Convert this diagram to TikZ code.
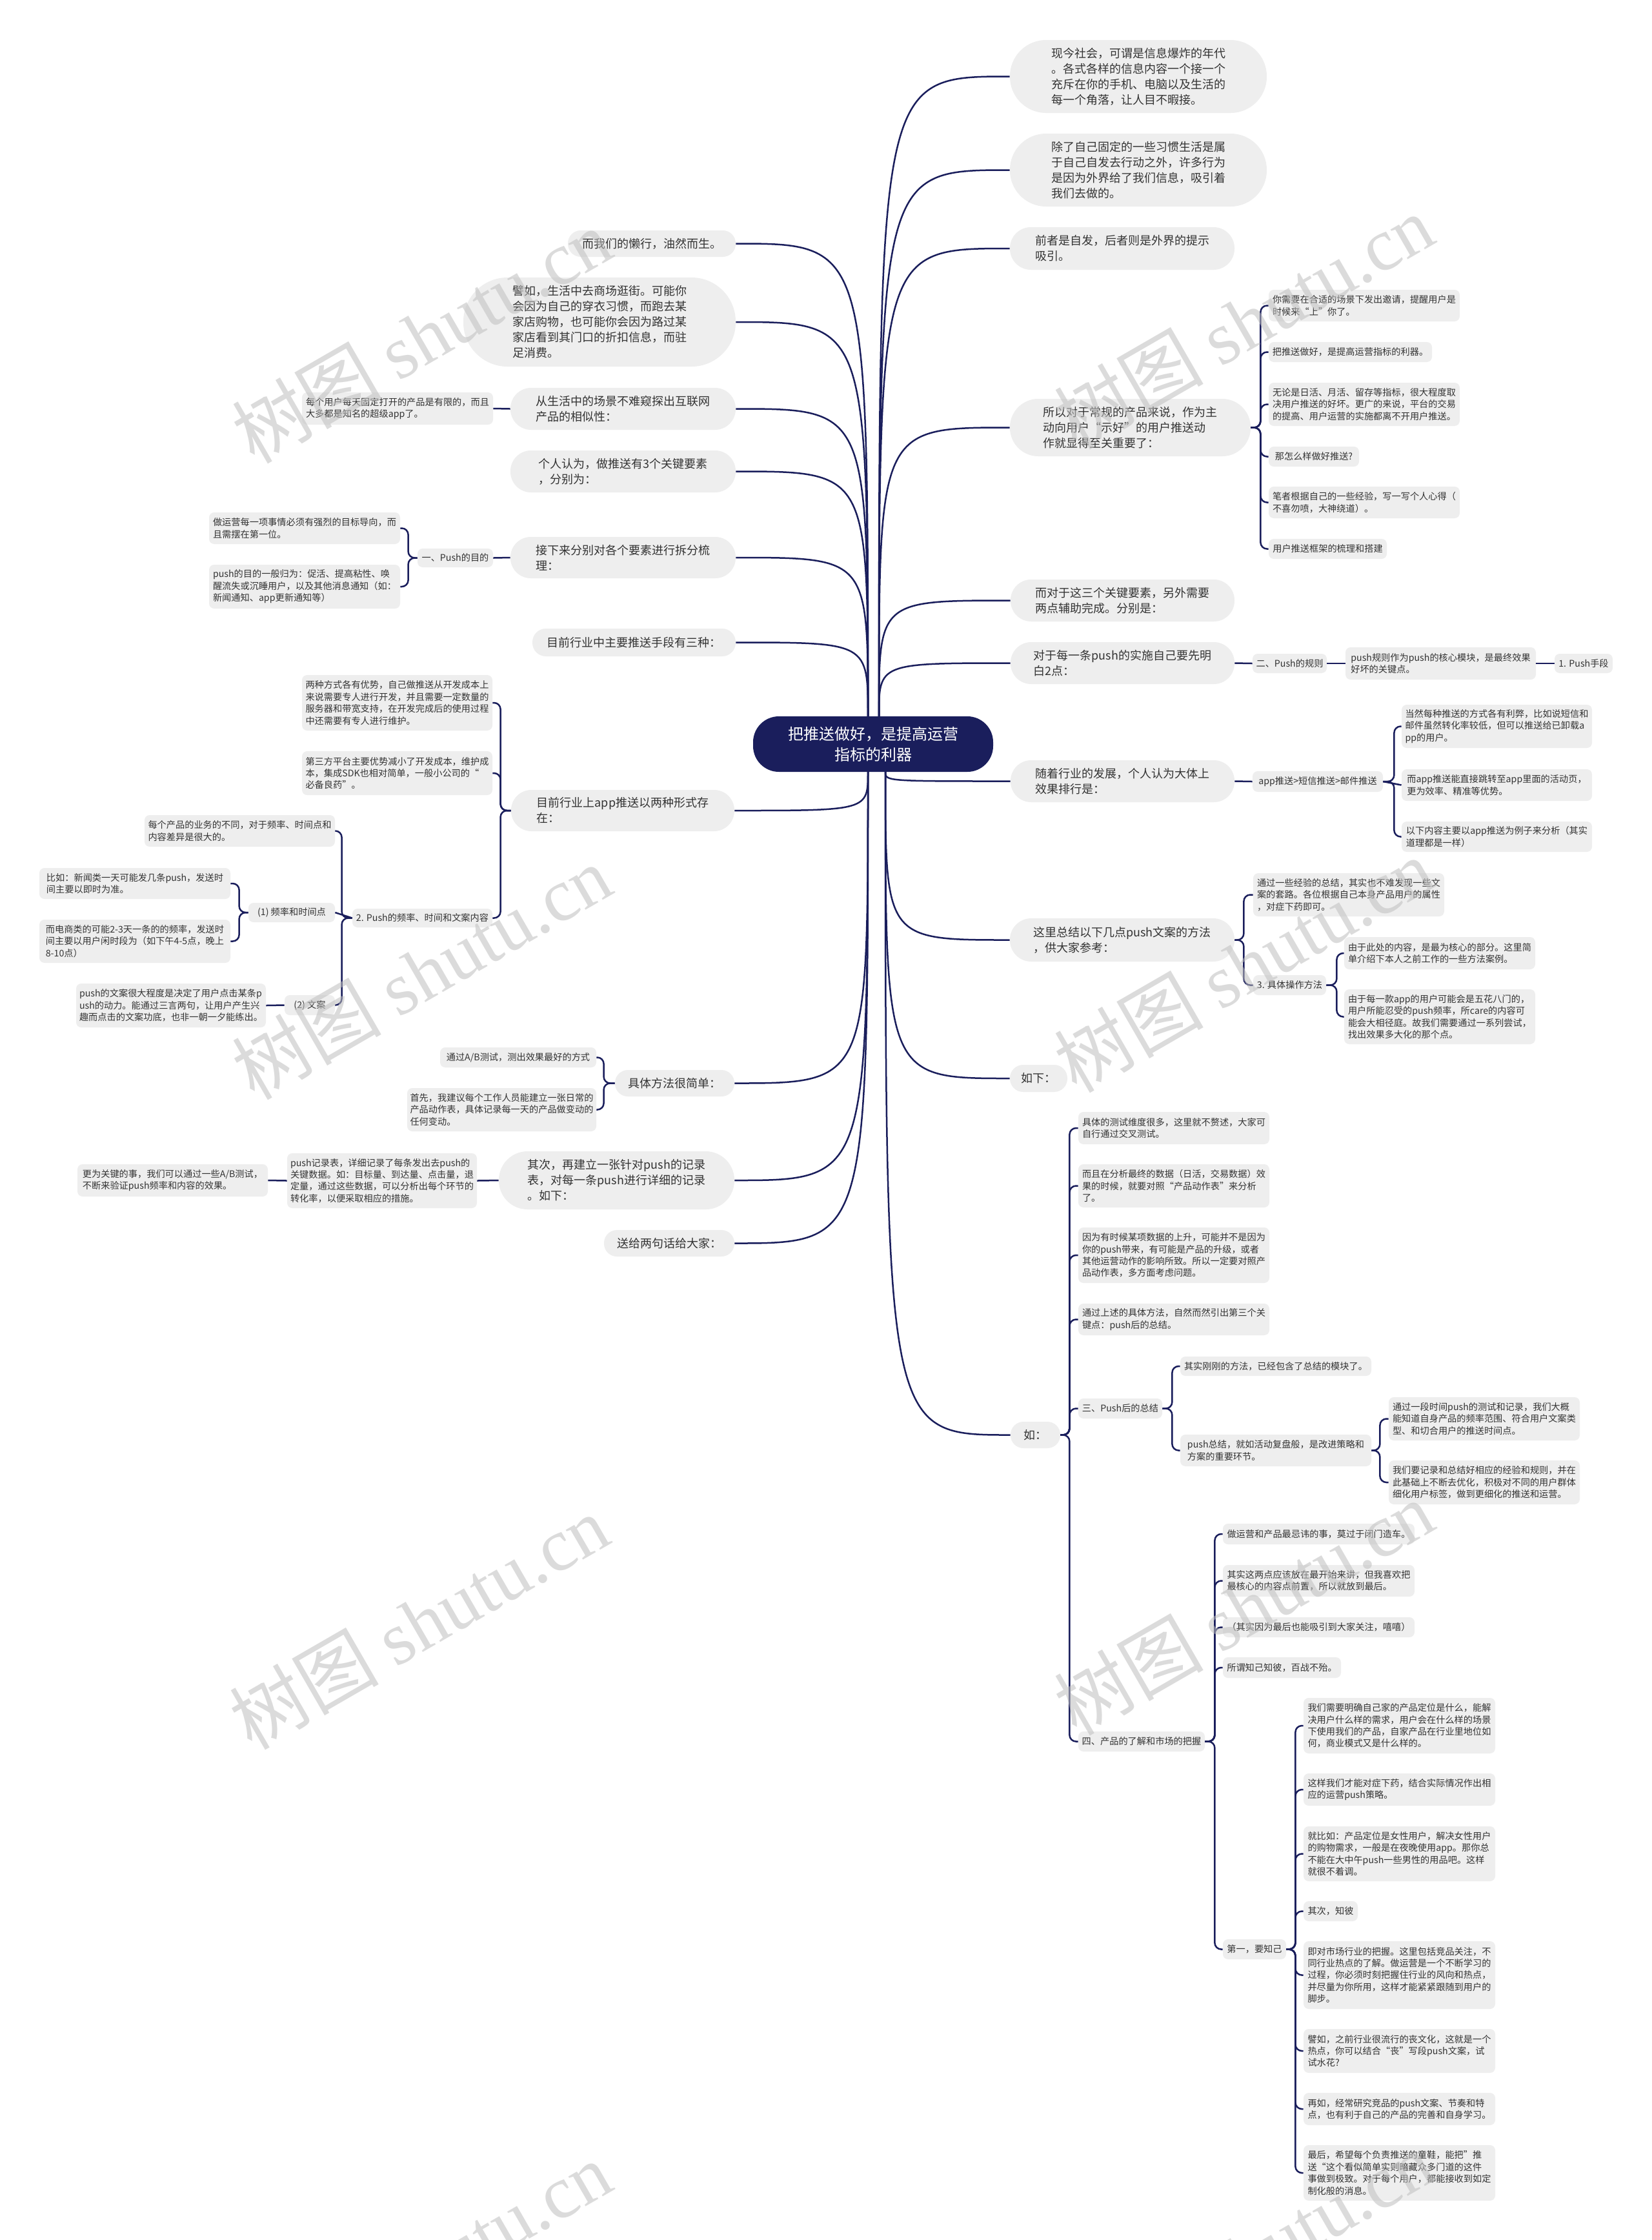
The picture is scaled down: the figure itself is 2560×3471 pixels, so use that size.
\documentclass[tikz,border=0pt]{standalone}
\usepackage{fontspec}
\setmainfont{Noto Sans CJK SC}
\newfontfamily\wmserif{Liberation Serif}
\usetikzlibrary{calc}
\definecolor{navy}{HTML}{1A1E5C}
\definecolor{nodegray}{HTML}{EEEEEE}
\definecolor{txt}{HTML}{333333}
\tikzset{
  lvone/.style={fill=nodegray, text=txt, font=\fontsize{9}{12}\selectfont, align=left, inner sep=1pt},
  sm/.style={fill=nodegray, text=txt, font=\fontsize{7.1}{9.2}\selectfont, align=left, inner sep=1pt},
  rootst/.style={fill=navy, text=white, font=\fontsize{12}{16}\selectfont, align=center, inner sep=1pt},
  link/.style={draw=navy, line width=1.25pt, rounded corners=5pt},
  wm/.style={text=black!25, opacity=0.55, font=\fontsize{58}{58}\selectfont, rotate=30}
}
\newcommand\bx[8]{%
  \node[#2, minimum width={(#5-#3)*0.5pt}, minimum height={(#6-#4)*0.5pt},
        rounded corners={min(#7,(#6-#4)/2-0.5)*0.5pt}]
    (#1) at ({(#3+#5)/2},{(#4+#6)/2}) {#8};}
\begin{document}
\begin{tikzpicture}[x=0.5pt,y=-0.5pt]
\useasboundingbox (0,0) rectangle (2560,3471);
\fill[white] (0,0) rectangle (2560,3471);

% root
\bx{root}{rootst}{1167}{1110}{1539}{1196}{40}{把推送做好，是提高运营\\指标的利器}

% right level one
\bx{R1}{lvone}{1565}{62}{1963}{175}{999}{现今社会，可谓是信息爆炸的年代\\。各式各样的信息内容一个接一个\\充斥在你的手机、电脑以及生活的\\每一个角落，让人目不暇接。}
\bx{R2}{lvone}{1565}{207}{1963}{320}{999}{除了自己固定的一些习惯生活是属\\于自己自发去行动之外，许多行为\\是因为外界给了我们信息，吸引着\\我们去做的。}
\bx{R3}{lvone}{1565}{352}{1913}{418}{999}{前者是自发，后者则是外界的提示\\吸引。}
\bx{R4}{lvone}{1565}{618}{1938}{707}{999}{所以对于常规的产品来说，作为主\\动向用户“示好”的用户推送动\\作就显得至关重要了：}
\bx{R5}{lvone}{1566}{898}{1913}{963}{999}{而对于这三个关键要素，另外需要\\两点辅助完成。分别是：}
\bx{R6}{lvone}{1566}{995}{1913}{1060}{999}{对于每一条push的实施自己要先明\\白2点：}
\bx{R7}{lvone}{1566}{1178}{1913}{1243}{999}{随着行业的发展，个人认为大体上\\效果排行是：}
\bx{R8}{lvone}{1565}{1423}{1913}{1490}{999}{这里总结以下几点push文案的方法\\，供大家参考：}
\bx{R9}{lvone}{1565}{1650}{1654}{1692}{999}{如下：}
\bx{R10}{lvone}{1566}{2203}{1643}{2244}{999}{如：}

% left level one
\bx{L1}{lvone}{880}{357}{1140}{398}{999}{而我们的懒行，油然而生。}
\bx{L2}{lvone}{718}{430}{1140}{568}{999}{譬如，生活中去商场逛街。可能你\\会因为自己的穿衣习惯，而跑去某\\家店购物，也可能你会因为路过某\\家店看到其门口的折扣信息，而驻\\足消费。}
\bx{L3}{lvone}{791}{601}{1140}{666}{999}{从生活中的场景不难窥探出互联网\\产品的相似性：}
\bx{L4}{lvone}{791}{698}{1140}{763}{999}{个人认为，做推送有3个关键要素\\，分别为：}
\bx{L5}{lvone}{791}{832}{1140}{896}{999}{接下来分别对各个要素进行拆分梳\\理：}
\bx{L6}{lvone}{825}{974}{1140}{1017}{999}{目前行业中主要推送手段有三种：}
\bx{L7}{lvone}{792}{1224}{1138}{1288}{999}{目前行业上app推送以两种形式存\\在：}
\bx{L8}{lvone}{953}{1658}{1138}{1699}{999}{具体方法很简单：}
\bx{L9}{lvone}{773}{1784}{1138}{1874}{999}{其次，再建立一张针对push的记录\\表，对每一条push进行详细的记录\\。如下：}
\bx{L10}{lvone}{936}{1906}{1138}{1947}{999}{送给两句话给大家：}

% R4 children
\bx{S4a}{sm}{1966}{449}{2262}{498}{8}{你需要在合适的场景下发出邀请，提醒用户是\\时候来“上”你了。}
\bx{S4b}{sm}{1966}{530}{2219}{561}{8}{把推送做好，是提高运营指标的利器。}
\bx{S4c}{sm}{1966}{593}{2262}{660}{8}{无论是日活、月活、留存等指标，很大程度取\\决用户推送的好坏。更广的来说，平台的交易\\的提高、用户运营的实施都离不开用户推送。}
\bx{S4d}{sm}{1966}{692}{2106}{723}{8}{那怎么样做好推送?}
\bx{S4e}{sm}{1966}{754}{2262}{803}{8}{笔者根据自己的一些经验，写一写个人心得（\\不喜勿喷，大神绕道）。}
\bx{S4f}{sm}{1966}{835}{2149}{866}{8}{用户推送框架的梳理和搭建}

% R6 chain
\bx{S6a}{sm}{1941}{1013}{2056}{1043}{8}{二、Push的规则}
\bx{S6b}{sm}{2085}{1003}{2380}{1053}{8}{push规则作为push的核心模块，是最终效果\\好坏的关键点。}
\bx{S6c}{sm}{2409}{1013}{2499}{1043}{8}{1. Push手段}

% R7 children
\bx{S7a}{sm}{1941}{1195}{2143}{1227}{8}{app推送>短信推送>邮件推送}
\bx{S7b}{sm}{2172}{1092}{2467}{1159}{8}{当然每种推送的方式各有利弊，比如说短信和\\邮件虽然转化率较低，但可以推送给已卸载a\\pp的用户。}
\bx{S7c}{sm}{2172}{1192}{2467}{1241}{8}{而app推送能直接跳转至app里面的活动页，\\更为效率、精准等优势。}
\bx{S7d}{sm}{2172}{1273}{2467}{1320}{8}{以下内容主要以app推送为例子来分析（其实\\道理都是一样）}

% R8 children
\bx{S8a}{sm}{1942}{1353}{2238}{1420}{8}{通过一些经验的总结，其实也不难发现一些文\\案的套路。各位根据自己本身产品用户的属性\\，对症下药即可。}
\bx{S8b}{sm}{1942}{1511}{2055}{1542}{8}{3. 具体操作方法}
\bx{S8c}{sm}{2083}{1452}{2379}{1502}{8}{由于此处的内容，是最为核心的部分。这里简\\单介绍下本人之前工作的一些方法案例。}
\bx{S8d}{sm}{2083}{1533}{2379}{1618}{8}{由于每一款app的用户可能会是五花八门的，\\用户所能忍受的push频率，所care的内容可\\能会大相径庭。故我们需要通过一系列尝试，\\找出效果多大化的那个点。}

% R10 children
\bx{S10a}{sm}{1671}{1723}{1967}{1773}{8}{具体的测试维度很多，这里就不赘述，大家可\\自行通过交叉测试。}
\bx{S10b}{sm}{1671}{1804}{1967}{1871}{8}{而且在分析最终的数据（日活，交易数据）效\\果的时候，就要对照“产品动作表”来分析\\了。}
\bx{S10c}{sm}{1671}{1902}{1967}{1988}{8}{因为有时候某项数据的上升，可能并不是因为\\你的push带来，有可能是产品的升级，或者\\其他运营动作的影响所致。所以一定要对照产\\品动作表，多方面考虑问题。}
\bx{S10d}{sm}{1671}{2020}{1967}{2069}{8}{通过上述的具体方法，自然而然引出第三个关\\键点：push后的总结。}
\bx{S10e}{sm}{1671}{2167}{1801}{2198}{8}{三、Push后的总结}
\bx{S10f}{sm}{1829}{2102}{2125}{2132}{8}{其实刚刚的方法，已经包含了总结的模块了。}
\bx{S10g}{sm}{1829}{2223}{2125}{2272}{8}{push总结，就如活动复盘般，是改进策略和\\方案的重要环节。}
\bx{S10h}{sm}{2152}{2165}{2448}{2232}{8}{通过一段时间push的测试和记录，我们大概\\能知道自身产品的频率范围、符合用户文案类\\型、和切合用户的推送时间点。}
\bx{S10i}{sm}{2152}{2263}{2448}{2331}{8}{我们要记录和总结好相应的经验和规则，并在\\此基础上不断去优化，积极对不同的用户群体\\细化用户标签，做到更细化的推送和运营。}
\bx{S10j}{sm}{1671}{2683}{1867}{2714}{8}{四、产品的了解和市场的把握}

% 四 children
\bx{S11a}{sm}{1895}{2361}{2192}{2393}{8}{做运营和产品最忌讳的事，莫过于闭门造车。}
\bx{S11b}{sm}{1895}{2425}{2192}{2474}{8}{其实这两点应该放在最开始来讲，但我喜欢把\\最核心的内容点前置，所以就放到最后。}
\bx{S11c}{sm}{1895}{2506}{2192}{2537}{8}{（其实因为最后也能吸引到大家关注，嘻嘻）}
\bx{S11d}{sm}{1895}{2568}{2078}{2600}{8}{所谓知己知彼，百战不殆。}
\bx{S11e}{sm}{1895}{3005}{1993}{3036}{8}{第一，要知己}

% 第一 children
\bx{S12a}{sm}{2020}{2631}{2317}{2717}{8}{我们需要明确自己家的产品定位是什么，能解\\决用户什么样的需求，用户会在什么样的场景\\下使用我们的产品，自家产品在行业里地位如\\何，商业模式又是什么样的。}
\bx{S12b}{sm}{2020}{2748}{2317}{2798}{8}{这样我们才能对症下药，结合实际情况作出相\\应的运营push策略。}
\bx{S12c}{sm}{2020}{2830}{2317}{2915}{8}{就比如：产品定位是女性用户，解决女性用户\\的购物需求，一般是在夜晚使用app。那你总\\不能在大中午push一些男性的用品吧。这样\\就很不着调。}
\bx{S12d}{sm}{2020}{2946}{2104}{2977}{8}{其次，知彼}
\bx{S12e}{sm}{2020}{3008}{2317}{3113}{8}{即对市场行业的把握。这里包括竞品关注，不\\同行业热点的了解。做运营是一个不断学习的\\过程，你必须时刻把握住行业的风向和热点，\\并尽量为你所用，这样才能紧紧跟随到用户的\\脚步。}
\bx{S12f}{sm}{2020}{3144}{2317}{3212}{8}{譬如，之前行业很流行的丧文化，这就是一个\\热点，你可以结合“丧”写段push文案，试\\试水花?}
\bx{S12g}{sm}{2020}{3243}{2317}{3293}{8}{再如，经常研究竞品的push文案、节奏和特\\点，也有利于自己的产品的完善和自身学习。}
\bx{S12h}{sm}{2020}{3324}{2317}{3410}{8}{最后，希望每个负责推送的童鞋，能把”推\\送“这个看似简单实则暗藏众多门道的这件\\事做到极致。对于每个用户，都能接收到如定\\制化般的消息。}

% left small nodes
\bx{T3a}{sm}{468}{608}{764}{658}{8}{每个用户每天固定打开的产品是有限的，而且\\大多都是知名的超级app了。}
\bx{T5a}{sm}{647}{850}{764}{879}{8}{一、Push的目的}
\bx{T5b}{sm}{324}{794}{620}{843}{8}{做运营每一项事情必须有强烈的目标导向，而\\且需摆在第一位。}
\bx{T5c}{sm}{324}{875}{620}{943}{8}{push的目的一般归为：促活、提高粘性、唤\\醒流失或沉睡用户，以及其他消息通知（如：\\新闻通知、app更新通知等）}
\bx{T7a}{sm}{468}{1046}{763}{1132}{8}{两种方式各有优势，自己做推送从开发成本上\\来说需要专人进行开发，并且需要一定数量的\\服务器和带宽支持，在开发完成后的使用过程\\中还需要有专人进行维护。}
\bx{T7b}{sm}{468}{1164}{763}{1232}{8}{第三方平台主要优势减小了开发成本，维护成\\本，集成SDK也相对简单，一般小公司的“\\必备良药”。}
\bx{T7c}{sm}{546}{1408}{763}{1437}{8}{2. Push的频率、时间和文案内容}
\bx{T7d}{sm}{224}{1263}{519}{1312}{8}{每个产品的业务的不同，对于频率、时间点和\\内容差异是很大的。}
\bx{T7e}{sm}{385}{1399}{519}{1429}{8}{(1) 频率和时间点}
\bx{T7f}{sm}{61}{1345}{357}{1393}{8}{比如：新闻类一天可能发几条push，发送时\\间主要以即时为准。}
\bx{T7g}{sm}{61}{1425}{357}{1492}{8}{而电商类的可能2-3天一条的的频率，发送时\\间主要以用户闲时段为（如下午4-5点，晚上\\8-10点）}
\bx{T7h}{sm}{441}{1542}{519}{1573}{8}{(2) 文案}
\bx{T7i}{sm}{118}{1524}{412}{1592}{8}{push的文案很大程度是决定了用户点击某条p\\ush的动力。能通过三言两句，让用户产生兴\\趣而点击的文案功底，也非一朝一夕能练出。}
\bx{T8a}{sm}{682}{1623}{924}{1654}{8}{通过A/B测试，测出效果最好的方式}
\bx{T8b}{sm}{631}{1686}{924}{1753}{8}{首先，我建议每个工作人员能建立一张日常的\\产品动作表，具体记录每一天的产品做变动的\\任何变动。}
\bx{T9a}{sm}{445}{1787}{739}{1872}{8}{push记录表，详细记录了每条发出去push的\\关键数据。如：目标量、到达量、点击量，退\\定量，通过这些数据，可以分析出每个环节的\\转化率，以便采取相应的措施。}
\bx{T9b}{sm}{120}{1804}{415}{1854}{8}{更为关键的事，我们可以通过一些A/B测试，\\不断来验证push频率和内容的效果。}

% root anchors
\coordinate (rt) at (1362,1110);
\coordinate (rb) at (1372,1196);
\coordinate (lt) at (1345,1110);
\coordinate (lb) at (1345,1196);

% root connectors
\foreach \n in {R1,R2,R3,R4,R5,R6}
  \draw[link] (rt) .. controls (rt |- \n.west) .. (\n.west);
\foreach \n in {R7,R8,R9,R10}
  \draw[link] (rb) .. controls (rb |- \n.west) .. (\n.west);
\foreach \n in {L1,L2,L3,L4,L5,L6}
  \draw[link] (lt) .. controls (lt |- \n.east) .. (\n.east);
\foreach \n in {L7,L8,L9,L10}
  \draw[link] (lb) .. controls (lb |- \n.east) .. (\n.east);

% right branches
\foreach \c in {S4a,S4b,S4c,S4d,S4e,S4f}
  \draw[link] (R4.east) -- ++(15,0) |- (\c.west);
\draw[link] (R6.east) -- (S6a.west);
\draw[link] (S6a.east) -- (S6b.west);
\draw[link] (S6b.east) -- (S6c.west);
\draw[link] (R7.east) -- (S7a.west);
\foreach \c in {S7b,S7d}
  \draw[link] (S7a.east) -- ++(17,0) |- (\c.west);
\draw[link] (S7a.east) -- (S7c.west);
\foreach \c in {S8a,S8b}
  \draw[link] (R8.east) -- ++(14,0) |- (\c.west);
\foreach \c in {S8c,S8d}
  \draw[link] (S8b.east) -- ++(16,0) |- (\c.west);
\foreach \c in {S10a,S10b,S10c,S10d,S10e,S10j}
  \draw[link] (R10.east) -- ++(14,0) |- (\c.west);
\foreach \c in {S10f,S10g}
  \draw[link] (S10e.east) -- ++(15,0) |- (\c.west);
\foreach \c in {S10h,S10i}
  \draw[link] (S10g.east) -- ++(13,0) |- (\c.west);
\foreach \c in {S11a,S11b,S11c,S11d,S11e}
  \draw[link] (S10j.east) -- ++(15,0) |- (\c.west);
\foreach \c in {S12a,S12b,S12c,S12d,S12e,S12f,S12g,S12h}
  \draw[link] (S11e.east) -- ++(14,0) |- (\c.west);

% left branches
\draw[link] (L3.west) -- (T3a.east);
\draw[link] (L5.west) -- (T5a.east);
\foreach \c in {T5b,T5c}
  \draw[link] (T5a.west) -- ++(-14,0) |- (\c.east);
\foreach \c in {T7a,T7b,T7c}
  \draw[link] (L7.west) -- ++(-16,0) |- (\c.east);
\foreach \c in {T7d,T7h}
  \draw[link] (T7c.west) -- ++(-16,0) |- (\c.east);
\draw[link] (T7c.west) -- (T7e.east);
\foreach \c in {T7f,T7g}
  \draw[link] (T7e.west) -- ++(-14,0) |- (\c.east);
\draw[link] (T7h.west) -- (T7i.east);
\foreach \c in {T8a,T8b}
  \draw[link] (L8.west) -- ++(-17,0) |- (\c.east);
\draw[link] (L9.west) -- (T9a.east);
\draw[link] (T9a.west) -- (T9b.east);

% watermarks
\node[wm] (wm1) at (653,520) {树图 {\wmserif shutu.cn}};
\node[wm] (wm2) at (1927,498) {树图 {\wmserif shutu.cn}};
\node[wm] (wm3) at (653,1506) {树图 {\wmserif shutu.cn}};
\node[wm] (wm4) at (1927,1495) {树图 {\wmserif shutu.cn}};
\node[wm] (wm5) at (649,2513) {树图 {\wmserif shutu.cn}};
\node[wm] (wm6) at (1927,2491) {树图 {\wmserif shutu.cn}};
\node[wm] (wm7) at (653,3515) {树图 {\wmserif shutu.cn}};
\node[wm] (wm8) at (1927,3499) {树图 {\wmserif shutu.cn}};
\end{tikzpicture}
\end{document}
